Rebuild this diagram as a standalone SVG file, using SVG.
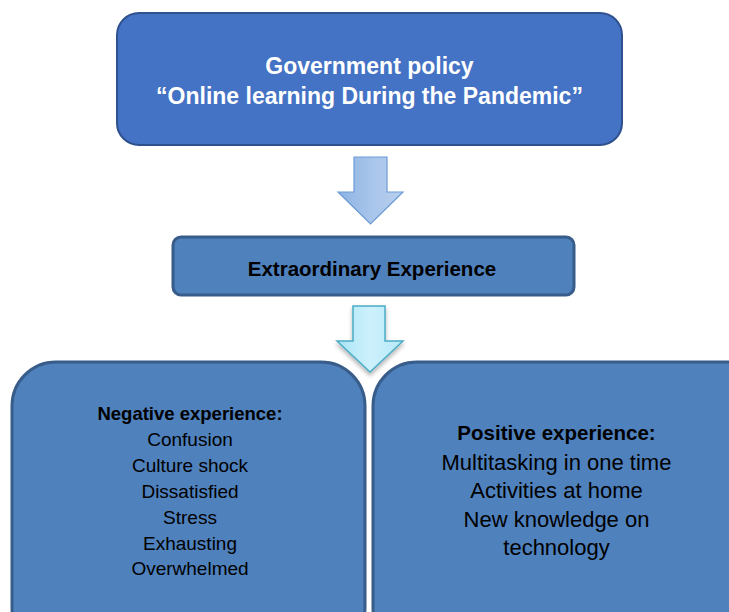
<svg xmlns="http://www.w3.org/2000/svg" width="729" height="612" viewBox="0 0 729 612">
  <defs>
    <linearGradient id="g1" x1="0" y1="0" x2="1" y2="0">
      <stop offset="0" stop-color="#8DB3E2"/>
      <stop offset="0.5" stop-color="#A7C4EA"/>
      <stop offset="1" stop-color="#B9D0EE"/>
    </linearGradient>
    <linearGradient id="g2" x1="0" y1="0" x2="1" y2="0">
      <stop offset="0" stop-color="#A9E4F5"/>
      <stop offset="0.5" stop-color="#CDF1FC"/>
      <stop offset="1" stop-color="#B5E9F8"/>
    </linearGradient>
    <filter id="sh" x="-20%" y="-20%" width="140%" height="160%">
      <feDropShadow dx="0" dy="3" stdDeviation="2" flood-color="#000" flood-opacity="0.3"/>
    </filter>
  </defs>
  <style>
    .box { fill: #4F81BD; stroke: #385D8A; stroke-width: 3; }
    .t { font-family: "Liberation Sans", Arial, sans-serif; text-anchor: middle; fill: #000; }
    .b { font-weight: bold; }
  </style>
  <rect width="729" height="612" fill="#fff"/>

  <g id="policy">
    <rect x="117" y="13" width="505" height="132" rx="22" fill="#4472C4" stroke="#2F528F" stroke-width="2"/>
    <text class="t b" x="369.5" y="74" font-size="23" fill="#fff" style="fill:#fff">Government policy</text>
    <text class="t b" x="369.5" y="104" font-size="23" style="fill:#fff">“Online learning During the Pandemic”</text>
  </g>

  <g id="extraordinary">
    <rect class="box" x="173" y="237" width="401" height="58" rx="8" stroke-width="3.5"/>
    <text class="t b" x="372" y="276" font-size="20.5">Extraordinary Experience</text>
  </g>

  <g id="negative">
    <rect class="box" x="12" y="362" width="353" height="290" rx="44"/>
    <text class="t b" x="190" y="420" font-size="18.5">Negative experience:</text>
    <text class="t" x="190" y="446" font-size="19">Confusion</text>
    <text class="t" x="190" y="472" font-size="19">Culture shock</text>
    <text class="t" x="190" y="498" font-size="19">Dissatisfied</text>
    <text class="t" x="190" y="524" font-size="19">Stress</text>
    <text class="t" x="190" y="550" font-size="19">Exhausting</text>
    <text class="t" x="190" y="575" font-size="19">Overwhelmed</text>
  </g>

  <g id="positive">
    <rect class="box" x="373" y="362" width="400" height="290" rx="44"/>
    <text class="t b" x="556.5" y="440" font-size="20.5">Positive experience:</text>
    <text class="t" x="556.5" y="470" font-size="22">Multitasking in one time</text>
    <text class="t" x="556.5" y="498" font-size="22">Activities at home</text>
    <text class="t" x="556.5" y="527" font-size="22">New knowledge on</text>
    <text class="t" x="556.5" y="555" font-size="22">technology</text>
  </g>

  <g id="connectors">
    <path d="M354,157 H387 V192 H403 L370.5,224 L338,192 H354 Z" fill="url(#g1)" stroke="#6C9BD5" stroke-width="1.2"/>
    <path d="M353,306 H385 V341 H403 L370,372 L337,341 H353 Z" fill="url(#g2)" stroke="#4BACC6" stroke-width="1.5" filter="url(#sh)"/>
  </g>
</svg>
